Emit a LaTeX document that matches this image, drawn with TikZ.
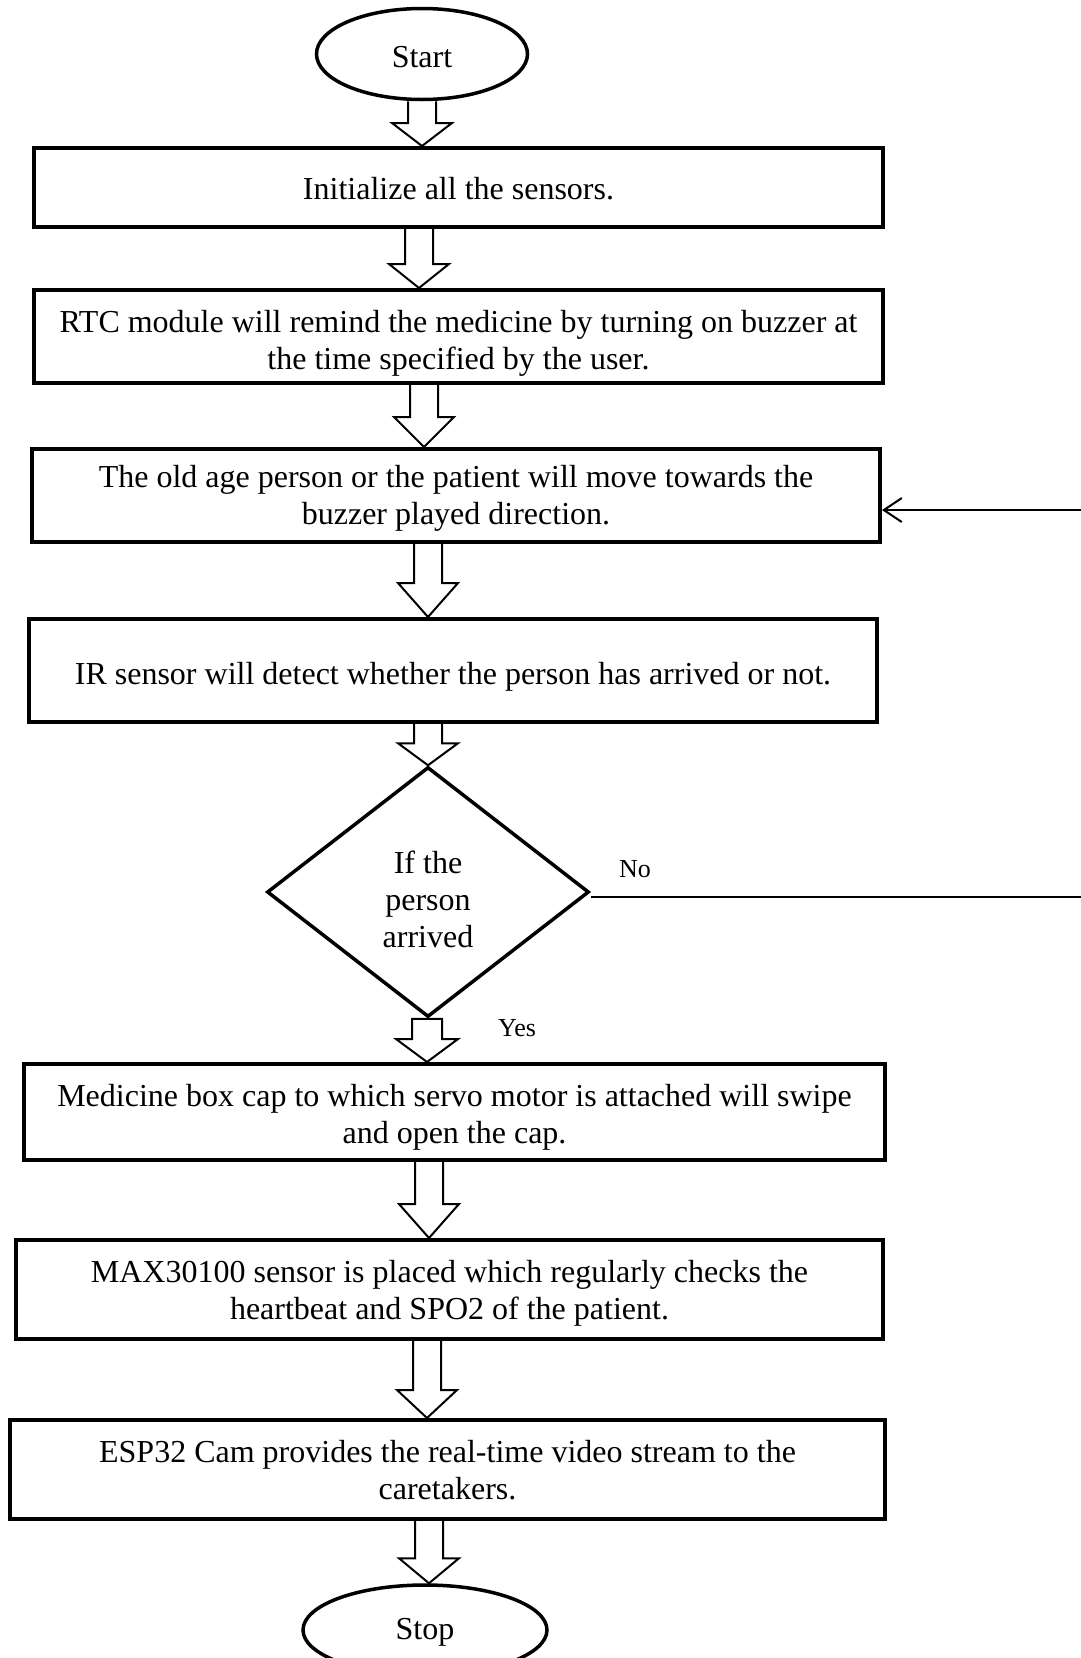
\documentclass[tikz,border=0pt]{standalone}
\usepackage{fontspec}
\setmainfont{Liberation Serif}
\usetikzlibrary{shapes.geometric,arrows.meta,calc}
\tikzset{
 box/.style={draw,line width=4pt,rectangle,inner sep=0pt},
 term/.style={draw,ellipse,line width=3.5pt,inner sep=0pt},
 decision/.style={draw,diamond,line width=3.5pt,inner sep=0pt},
 txt/.style={inner sep=0pt,align=center,font=\fontsize{32}{37}\selectfont},
 hollow/.style={line width=2pt,line join=miter},
 conn/.style={line width=2pt},
 lbl/.style={font=\fontsize{26}{30}\selectfont,inner sep=0pt},
}
% hollow block arrow: [#1 = head length], #2 = x position, #3 = from node, #4 = to node
\newcommand\harrow[4][25]{%
  \draw[hollow] let \p1=(#3.south), \p2=(#4.north) in
    (#2-14,\y1) -- (#2-14,\y2+#1) -- (#2-30,\y2+#1) -- (#2,\y2)
    -- (#2+30,\y2+#1) -- (#2+14,\y2+#1) -- (#2+14,\y1);}
% same, with the shaft closed at its top
\newcommand\harrowc[4][23]{%
  \draw[hollow] let \p1=(#3.south), \p2=(#4.north) in
    (#2-15,\y1) -- (#2-15,\y2+#1) -- (#2-31,\y2+#1) -- (#2,\y2)
    -- (#2+31,\y2+#1) -- (#2+15,\y2+#1) -- (#2+15,\y1) -- cycle;}
\begin{document}
\begin{tikzpicture}[x=1pt,y=1pt]
\useasboundingbox (0,0) rectangle (1081,-1658);

\node[term,minimum width=211pt,minimum height=91pt] (start) at (422,-54) {};
\node[txt] (tstart) at ([yshift=-3pt]start.center) {Start};

\node[box,minimum width=849pt,minimum height=79pt] (b1) at (458.5,-187.5) {};
\node[txt] (t1) at ([yshift=-1pt]b1.center) {Initialize all the sensors.};

\node[box,minimum width=849pt,minimum height=93pt] (b2) at (458.5,-336.5) {};
\node[txt] (t2) at ([yshift=-7pt]b2.center)
  {RTC module will remind the medicine by turning on buzzer at\\the time specified by the user.};

\node[box,minimum width=848pt,minimum height=93pt] (b3) at (456,-495.5) {};
\node[txt] (t3) at ([yshift=-3pt]b3.center)
  {The old age person or the patient will move towards the\\buzzer played direction.};

\node[box,minimum width=848pt,minimum height=103pt] (b4) at (453,-670.5) {};
\node[txt] (t4) at ([yshift=-6pt]b4.center)
  {IR sensor will detect whether the person has arrived or not.};

\node[decision,minimum width=322pt,minimum height=250pt] (dia) at (428,-892) {};
\node[txt] (tdia) at ([yshift=-7pt]dia.center) {If the\\person\\arrived};

\node[box,minimum width=861pt,minimum height=96pt] (b5) at (454.5,-1112) {};
\node[txt] (t5) at ([yshift=-5pt]b5.center)
  {Medicine box cap to which servo motor is attached will swipe\\and open the cap.};

\node[box,minimum width=867pt,minimum height=99pt] (b6) at (449.5,-1289.5) {};
\node[txt] (t6) at ([yshift=-4pt]b6.center)
  {MAX30100 sensor is placed which regularly checks the\\heartbeat and SPO2 of the patient.};

\node[box,minimum width=875pt,minimum height=99pt] (b7) at (447.5,-1469.5) {};
\node[txt] (t7) at ([yshift=-1pt]b7.center)
  {ESP32 Cam provides the real-time video stream to the\\caretakers.};

\node[term,minimum width=244pt,minimum height=90pt] (stop) at (425,-1630) {};
\node[txt] (tstop) at ([yshift=-2pt]stop.center) {Stop};

\harrow[23]{422}{start}{b1}
\harrow[24]{419}{b1}{b2}
\harrow[30]{424}{b2}{b3}
\harrow[34]{428}{b3}{b4}
\harrow[22]{428}{b4}{dia}
\harrowc{427}{dia}{b5}
\harrow[34]{429}{b5}{b6}
\harrow[28]{427}{b6}{b7}
\harrow[25]{429}{b7}{stop}

\coordinate (r1) at (1081,-897);
\coordinate (r2) at (1081,-510);
\draw[conn] (dia.east |- r1) -- (r1);
\draw[conn,-{Straight Barb[length=18pt,width=24pt,line width=2pt]}] (r2) -- (r2 -| b3.east);

\node[lbl] (lno) at (635,-869) {No};
\node[lbl] (lyes) at (517,-1028) {Yes};
\end{tikzpicture}
\end{document}
